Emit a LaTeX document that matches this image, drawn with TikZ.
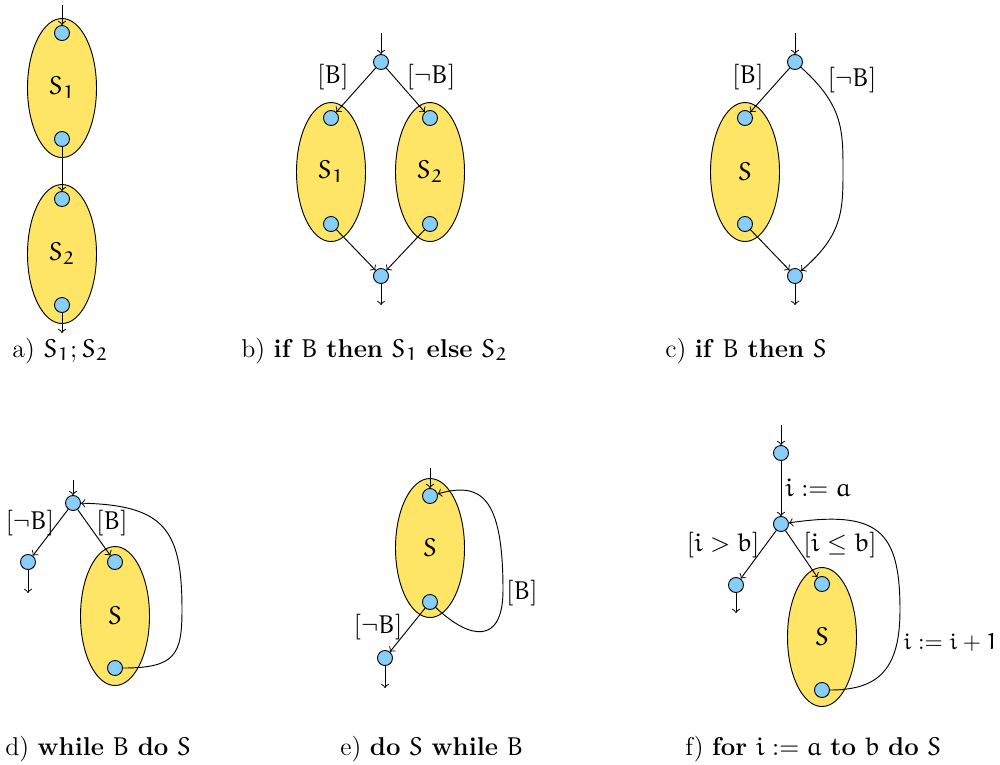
\documentclass[tikz,border=0pt]{standalone}
\usepackage{amsfonts}
\DeclareSymbolFont{letters}{U}{eur}{m}{n}
\SetSymbolFont{letters}{bold}{U}{eur}{b}{n}
\DeclareMathSymbol{1}{\mathord}{letters}{"31}
\DeclareMathSymbol{2}{\mathord}{letters}{"32}
\usetikzlibrary{shapes.geometric}
\definecolor{stmtyellow}{RGB}{255,229,102}
\definecolor{ptblue}{RGB}{135,206,250}
\tikzset{
  pt/.style={circle,draw,fill=ptblue,minimum size=0.225cm,inner sep=0pt},
  stmt/.style={ellipse,draw,fill=stmtyellow,minimum width=1.035cm,minimum height=2.085cm,inner sep=0pt},
  flow/.style={->,>=to},
  captxt/.style={anchor=base west,inner sep=0pt}
}

\begin{document}
\begin{tikzpicture}[x=0.015cm,y=-0.015cm,font=\fontsize{11pt}{13pt}\selectfont]
\useasboundingbox (0,0) rectangle (1000,764);
% a) sequence
\node[stmt] (s1) at (62,88) {$S_1$};
\node[stmt] (s2) at (62,254) {$S_2$};
\node[pt] (a1) at (62,33) {};
\node[pt] (a2) at (62,139) {};
\node[pt] (a3) at (62,199) {};
\node[pt] (a4) at (62,305) {};
\coordinate (ain) at (62,5);
\coordinate (aout) at (62,333);
\draw[flow] (ain) -- (a1);
\draw[flow] (a2) -- (a3);
\draw[flow] (a4) -- (aout);
\node[captxt] (capa) at (12,357) {a) $S_1;S_2$};

% b) if then else
\node[stmt] (bs1) at (331,172) {$S_1$};
\node[stmt] (bs2) at (430,172) {$S_2$};
\node[pt] (b0) at (381,62) {};
\node[pt] (b1) at (331,118) {};
\node[pt] (b2) at (331,224) {};
\node[pt] (b3) at (430,118) {};
\node[pt] (b4) at (430,224) {};
\node[pt] (b5) at (381,276) {};
\coordinate (bin) at (381,33);
\coordinate (bout) at (381,305);
\draw[flow] (bin) -- (b0);
\draw[flow] (b0) -- (b1);
\draw[flow] (b0) -- (b3);
\draw[flow] (b2) -- (b5);
\draw[flow] (b4) -- (b5);
\draw[flow] (b5) -- (bout);
\node (bb) at (333,77) {$[B]$};
\node (bnb) at (431,77) {$[\neg B]$};
\node[captxt] (capb) at (241,357) {b) \textbf{if} $B$ \textbf{then} $S_1$ \textbf{else} $S_2$};

% c) if then
\node[stmt] (cs) at (745,172) {$S$};
\node[pt] (c0) at (795,62) {};
\node[pt] (c1) at (745,118) {};
\node[pt] (c2) at (745,224) {};
\node[pt] (c3) at (795,276) {};
\coordinate (cin) at (795,33);
\coordinate (cout) at (795,305);
\draw[flow] (cin) -- (c0);
\draw[flow] (c0) -- (c1);
\draw[flow] (c2) -- (c3);
\draw[flow] (c0) .. controls (843,105) and (843,130) .. (843,170) .. controls (843,210) and (843,235) .. (c3);
\draw[flow] (c3) -- (cout);
\node (cb) at (748,77) {$[B]$};
\node (cnb) at (852,80) {$[\neg B]$};
\node[captxt] (capc) at (665,357) {c) \textbf{if} $B$ \textbf{then} $S$};

% d) while
\node[stmt] (ds) at (115,616) {$S$};
\node[pt] (d0) at (73,503) {};
\node[pt] (d1) at (28,562) {};
\node[pt] (d2) at (115,562) {};
\node[pt] (d3) at (115,668) {};
\coordinate (din) at (73,480);
\coordinate (dout) at (28,593);
\draw[flow] (din) -- (d0);
\draw[flow] (d0) -- (d1);
\draw[flow] (d0) -- (d2);
\draw[flow] (d1) -- (dout);
\draw[flow] (d3) .. controls (175,668) and (182,655) .. (182,610) .. controls (182,530) and (165,505) .. (d0);
\node (dnb) at (30,523) {$[\neg B]$};
\node (db) at (112,523) {$[B]$};
\node[captxt] (capd) at (5,755) {d) \textbf{while} $B$ \textbf{do} $S$};

% e) do while
\node[stmt] (es) at (430,548) {$S$};
\node[pt] (e1) at (430,496) {};
\node[pt] (e2) at (430,602) {};
\node[pt] (e3) at (385,658) {};
\coordinate (ein) at (430,468);
\coordinate (eout) at (385,688);
\draw[flow] (ein) -- (e1);
\draw[flow] (e2) -- (e3);
\draw[flow] (e3) -- (eout);
\draw[flow] (e2) .. controls (470,640) and (503,645) .. (503,590) .. controls (503,495) and (480,482) .. (e1);
\node (enb) at (378,627) {$[\neg B]$};
\node (eb) at (522,593) {$[B]$};
\node[captxt] (cape) at (340,755) {e) \textbf{do} $S$ \textbf{while} $B$};

% f) for
\node[stmt] (fs) at (822,637) {$S$};
\node[pt] (f0) at (781,453) {};
\node[pt] (f1) at (781,524) {};
\node[pt] (f2) at (736,585) {};
\node[pt] (f3) at (822,584) {};
\node[pt] (f4) at (822,690) {};
\coordinate (fin) at (781,425);
\coordinate (fout) at (736,613);
\draw[flow] (fin) -- (f0);
\draw[flow] (f0) -- (f1);
\draw[flow] (f1) -- (f2);
\draw[flow] (f1) -- (f3);
\draw[flow] (f2) -- (fout);
\draw[flow] (f4) .. controls (878,690) and (900,670) .. (900,610) .. controls (900,530) and (878,510) .. (f1);
\node (fa) at (818,488) {$i:=a$};
\node (fgt) at (723,545) {$[i>b]$};
\node (fle) at (840,545) {$[i\le b]$};
\node[anchor=east,inner sep=0pt,font=\fontsize{9.7pt}{12pt}\selectfont] (finc) at (998,643) {$i:=i+1$};
\node[captxt] (capf) at (685,755) {f) \textbf{for} $i:=a$ \textbf{to} $b$ \textbf{do} $S$};
\end{tikzpicture}
\end{document}
